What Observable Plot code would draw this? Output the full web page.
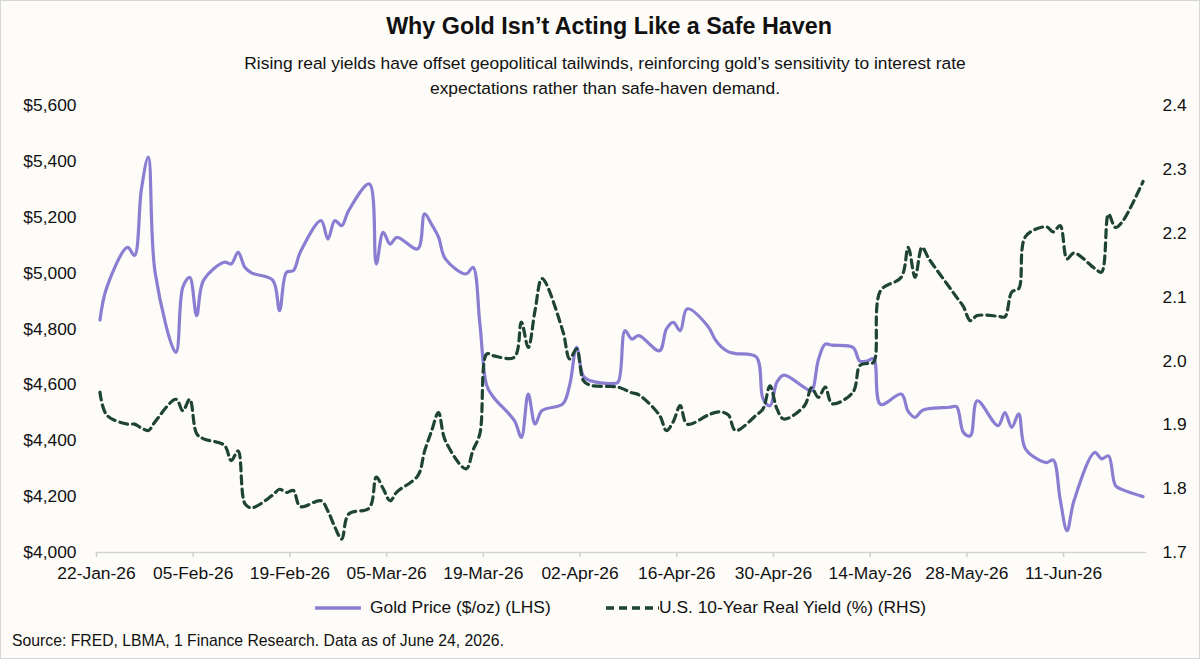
<!DOCTYPE html>
<html>
<head>
<meta charset="utf-8">
<script src="https://cdn.jsdelivr.net/npm/d3@7"></script>
<script src="https://cdn.jsdelivr.net/npm/@observablehq/plot@0.6"></script>
<style>
  html, body { margin: 0; padding: 0; background: #FDFCF8; }
  #wrap { position: relative; width: 1200px; height: 659px; background: #FDFCF8; font-family: "Liberation Sans", Arial, sans-serif; color: #111; overflow: hidden; }
  #border { position: absolute; left: 0; top: 0; width: 1200px; height: 659px; box-sizing: border-box; border: 1px solid #d6d6d6; pointer-events: none; }
  #title { position: absolute; left: 18px; width: 1182px; top: 14px; text-align: center; font-weight: bold; font-size: 23.3px; line-height: 24px; }
  #subtitle { position: absolute; left: 10px; width: 1190px; top: 51px; text-align: center; font-size: 17.4px; line-height: 24.5px; }
  #chart { position: absolute; left: 0; top: 96px; }
  .leg { position: absolute; top: 597px; font-size: 17.4px; line-height: 20px; white-space: nowrap; }
  .sw { position: absolute; top: 598px; }
  #caption { position: absolute; left: 12px; top: 631px; font-size: 15.75px; line-height: 20px; white-space: nowrap; }
</style>
</head>
<body>
<div id="wrap">
  <div id="title">Why Gold Isn’t Acting Like a Safe Haven</div>
  <div id="subtitle">Rising real yields have offset geopolitical tailwinds, reinforcing gold’s sensitivity to interest rate<br>expectations rather than safe-haven demand.</div>
  <div id="chart"></div>
  <svg class="sw" style="left:315px" width="46" height="20"><line x1="0" x2="46" y1="10" y2="10" stroke="#8A7ED2" stroke-width="3.5"/></svg>
  <div class="leg" style="left:370px">Gold Price ($/oz) (LHS)</div>
  <svg class="sw" style="left:605px" width="54" height="20"><line x1="1" x2="54" y1="10" y2="10" stroke="#1F4436" stroke-width="3.5" stroke-dasharray="8,5"/></svg>
  <div class="leg" style="left:659px">U.S. 10-Year Real Yield (%) (RHS)</div>
  <div id="caption">Source: FRED, LBMA, 1 Finance Research. Data as of June 24, 2026.</div>
  <div id="border"></div>
</div>
<script>
// ---- data ----
const dates = [
  "2026-01-22","2026-01-23","2026-01-26","2026-01-27","2026-01-28","2026-01-29","2026-01-30",
  "2026-02-02","2026-02-03","2026-02-04","2026-02-05","2026-02-06",
  "2026-02-09","2026-02-10","2026-02-11","2026-02-12","2026-02-13",
  "2026-02-16","2026-02-17","2026-02-18","2026-02-19","2026-02-20",
  "2026-02-23","2026-02-24","2026-02-25","2026-02-26","2026-02-27",
  "2026-03-02","2026-03-03","2026-03-04","2026-03-05","2026-03-06",
  "2026-03-09","2026-03-10","2026-03-11","2026-03-12","2026-03-13",
  "2026-03-16","2026-03-17","2026-03-18","2026-03-19","2026-03-20",
  "2026-03-23","2026-03-24","2026-03-25","2026-03-26","2026-03-27",
  "2026-03-30","2026-03-31","2026-04-01","2026-04-02","2026-04-03",
  "2026-04-06","2026-04-07","2026-04-08","2026-04-09","2026-04-10",
  "2026-04-13","2026-04-14","2026-04-15","2026-04-16","2026-04-17",
  "2026-04-20","2026-04-21","2026-04-22","2026-04-23","2026-04-24",
  "2026-04-27","2026-04-28","2026-04-29","2026-04-30","2026-05-01",
  "2026-05-04","2026-05-05","2026-05-06","2026-05-07","2026-05-08",
  "2026-05-11","2026-05-12","2026-05-13","2026-05-14","2026-05-15",
  "2026-05-18","2026-05-19","2026-05-20","2026-05-21","2026-05-22",
  "2026-05-25","2026-05-26","2026-05-27","2026-05-28","2026-05-29",
  "2026-06-01","2026-06-02","2026-06-03","2026-06-04","2026-06-05",
  "2026-06-08","2026-06-09","2026-06-10","2026-06-11","2026-06-12",
  "2026-06-15","2026-06-16","2026-06-17","2026-06-18","2026-06-19",
  "2026-06-22"
];
const goldPrice = [
  4832,4950,5092,5063,5300,5415,5000,
  4716,4950,4985,4848,4975,
  5039,5033,5074,5020,5000,
  4975,4866,5003,5009,5075,
  5188,5122,5188,5170,5224,
  5319,5033,5146,5104,5128,
  5087,5212,5175,5130,5051,
  4997,5021,4818,4597,4555,
  4472,4412,4567,4460,4508,
  4532,4600,4734,4630,4615,
  4605,4610,4794,4764,4776,
  4722,4800,4824,4794,4872,
  4810,4765,4735,4718,4712,
  4700,4549,4525,4610,4635,
  4590,4579,4690,4746,4742,
  4734,4685,4685,4693,4530,
  4567,4505,4484,4508,4515,
  4520,4522,4430,4418,4543,
  4454,4501,4448,4496,4370,
  4322,4331,4190,4078,4185,
  4358,4335,4346,4240,4225,
  4200
];
const realYield = [
  1.951,1.915,1.901,1.901,1.895,1.891,1.905,
  1.940,1.922,1.940,1.886,1.878,
  1.868,1.844,1.859,1.776,1.770,
  1.790,1.799,1.794,1.797,1.772,
  1.781,1.765,1.740,1.721,1.760,
  1.770,1.818,1.800,1.781,1.795,
  1.820,1.859,1.890,1.919,1.875,
  1.831,1.860,1.886,2.011,2.008,
  2.006,2.061,2.021,2.080,2.129,
  2.047,2.003,2.019,1.969,1.962,
  1.960,1.959,1.955,1.950,1.947,
  1.915,1.891,1.905,1.930,1.901,
  1.915,1.919,1.920,1.915,1.891,
  1.915,1.925,1.961,1.925,1.909,
  1.930,1.958,1.943,1.959,1.933,
  1.951,1.993,1.996,1.998,2.110,
  2.131,2.178,2.131,2.178,2.160,
  2.115,2.100,2.085,2.063,2.071,
  2.070,2.069,2.108,2.113,2.195,
  2.210,2.202,2.212,2.160,2.169,
  2.145,2.139,2.230,2.209,2.218,
  2.281
];
const xTickDates = ["2026-01-22","2026-02-05","2026-02-19","2026-03-05","2026-03-19","2026-04-02",
                    "2026-04-16","2026-04-30","2026-05-14","2026-05-28","2026-06-11"];
const goldTicks = [4000,4200,4400,4600,4800,5000,5200,5400,5600];
const yieldTicks = [1.7,1.8,1.9,2.0,2.1,2.2,2.3,2.4];
const xDomain = ["2026-01-22","2026-06-23"];

// ---- build ----
const goldDomain = [4000, 5600];
const yieldDomain = [1.7, 2.4];
const toGold = v => goldDomain[0] + (v - yieldDomain[0]) * (goldDomain[1] - goldDomain[0]) / (yieldDomain[1] - yieldDomain[0]);
const fromGold = g => yieldDomain[0] + (g - goldDomain[0]) * (yieldDomain[1] - yieldDomain[0]) / (goldDomain[1] - goldDomain[0]);
const noon = s => new Date(s + "T12:00:00Z");
const day0 = s => new Date(s + "T00:00:00Z");

const rows = dates.map((d, i) => ({date: noon(d), gold: goldPrice[i], yld: realYield[i], yg: toGold(realYield[i])}));
const fmtDate = d3.utcFormat("%d-%b-%y");

const chart = Plot.plot({
  width: 1200,
  height: 496,
  marginLeft: 96,
  marginRight: 54,
  marginTop: 9,
  marginBottom: 40,
  style: {fontFamily: "'Liberation Sans', Arial, sans-serif", fontSize: "17.4px", color: "#111", background: "transparent"},
  x: {type: "utc", domain: xDomain.map(day0)},
  y: {domain: goldDomain},
  marks: [
    Plot.ruleY([goldDomain[0]], {stroke: "#d3d3d3", strokeWidth: 1.5}),
    Plot.axisX(xTickDates.map(day0), {tickSize: 5, tickPadding: 9, stroke: "#cfcfcf", strokeWidth: 1.5, tickFormat: fmtDate, fill: "#111", label: null}),
    Plot.axisY(goldTicks, {anchor: "left", tickSize: 0, tickPadding: 20, tickFormat: d => "$" + d3.format(",")(d), fill: "#111", label: null}),
    Plot.axisY(yieldTicks.map(toGold), {anchor: "right", tickSize: 0, tickPadding: 16, tickFormat: d => fromGold(d).toFixed(1), fill: "#111", label: null}),
    Plot.line(rows, {x: "date", y: "gold", stroke: "#8A7ED2", strokeWidth: 3.2, curve: "catmull-rom"}),
    Plot.line(rows, {x: "date", y: "yg", stroke: "#1F4436", strokeWidth: 3.2, strokeDasharray: "8,5", curve: "catmull-rom"})
  ]
});
document.getElementById("chart").appendChild(chart);
</script>
</body>
</html>
